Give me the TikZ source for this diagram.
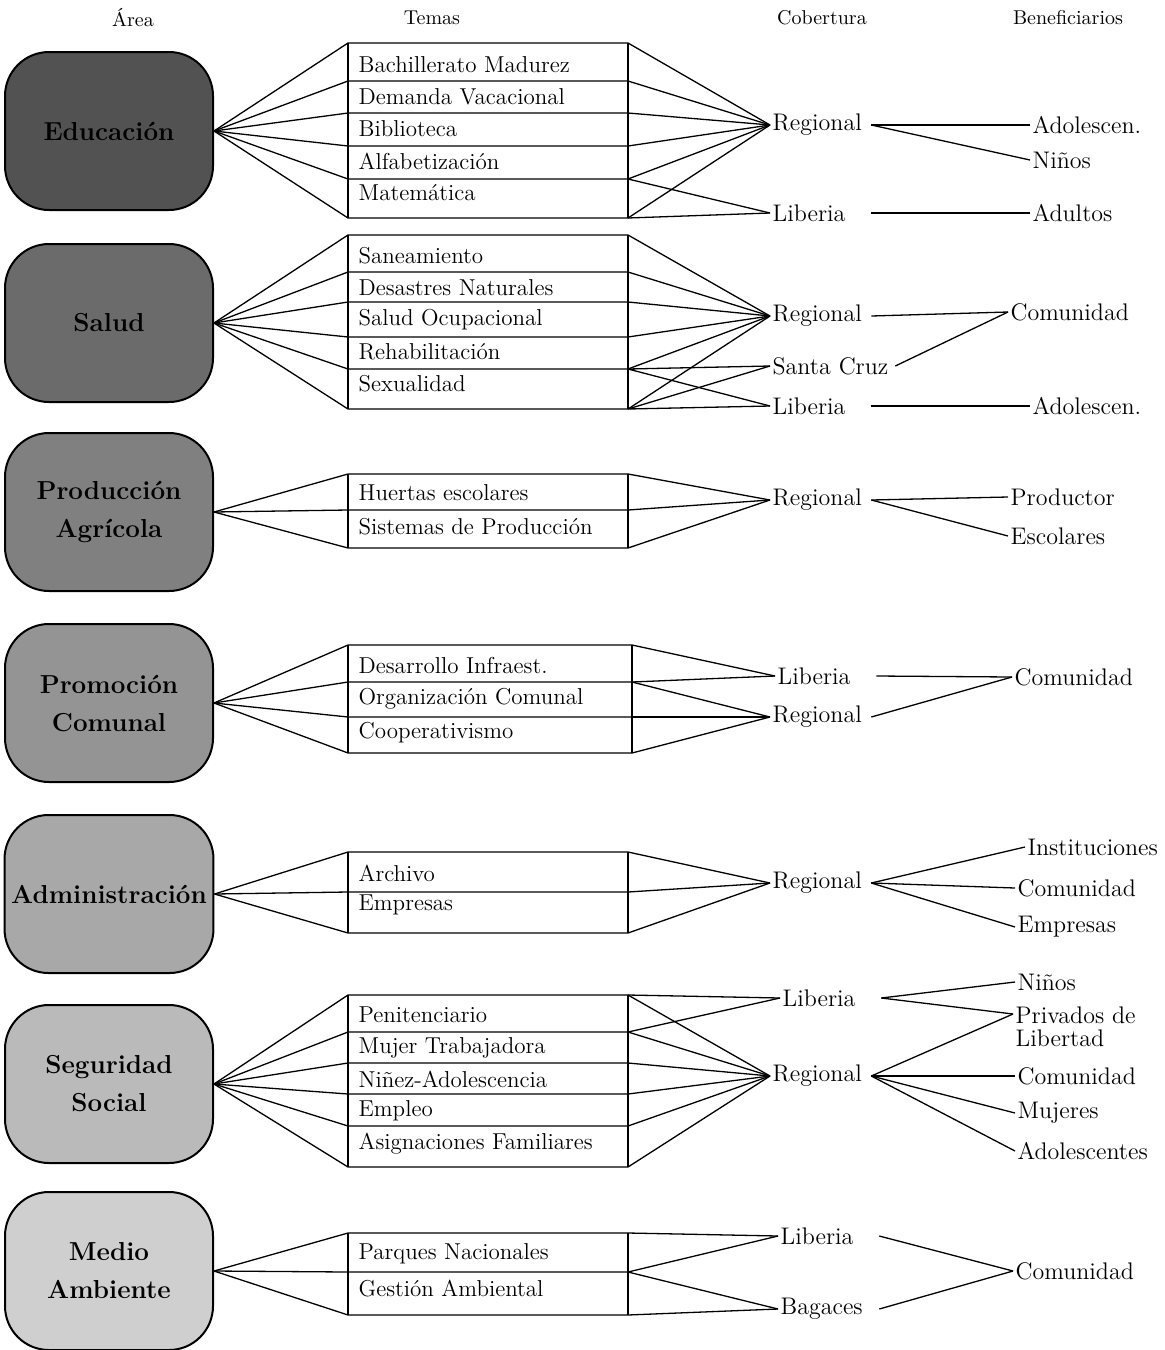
\documentclass[tikz,border=0pt]{standalone}
\usepackage{tikz}

% tonos de las areas
\definecolor{tonoA}{gray}{0.32}
\definecolor{tonoB}{gray}{0.42}
\definecolor{tonoC}{gray}{0.50}
\definecolor{tonoD}{gray}{0.58}
\definecolor{tonoE}{gray}{0.66}
\definecolor{tonoF}{gray}{0.73}
\definecolor{tonoG}{gray}{0.81}

\begin{document}
\begin{tikzpicture}[x=0.5pt, y=-0.5pt, line width=0.65pt,
  area/.style={draw, line width=1pt, rounded corners=22pt, minimum width=104pt,
    minimum height=79pt, align=center, font=\fontsize{13}{19}\selectfont\bfseries},
  tema/.style={anchor=west, inner sep=1pt, font=\fontsize{11.5}{14}\selectfont},
  cob/.style={anchor=west, inner sep=1pt, text width=48pt, font=\fontsize{12}{14}\selectfont},
  benef/.style={anchor=west, inner sep=1pt, align=left, font=\fontsize{12}{11.5}\selectfont},
  head/.style={font=\fontsize{10}{12}\selectfont}]

\useasboundingbox (0,0) rectangle (1165,1350);

% Encabezados
\node[head] (hArea) at (133,18) {Área};
\node[head] (hTemas) at (432,18) {Temas};
\node[head] (hCob) at (822,18) {Cobertura};
\node[head] (hBen) at (1068,18) {Beneficiarios};

% Educacion
\node[area, fill=tonoA] (edu) at (109,131) {Educación};
\foreach \y [count=\i] in {43,81,113,146,179,218}
  \draw (edu.east) -- (348,\y) coordinate (eduL\i) -- (628,\y) coordinate (eduR\i);
\draw (eduL1) -- (eduL6) (eduR1) -- (eduR6);
\foreach \t/\y [count=\i] in {Bachillerato Madurez/65, Demanda Vacacional/97,
    Biblioteca/129, Alfabetización/161, Matemática/193}
  \node[tema] (eduT\i) at (356,\y) {\t};
\node[cob] (eduReg) at (770,125) {Regional};
\node[cob] (eduLib) at (770,213) {Liberia};
\foreach \i in {1,...,6} \draw (eduR\i) -- (eduReg.west);
\foreach \i in {5,6} \draw (eduR\i) -- (eduLib.west);
\node[benef] (eduB1) at (1030,125) {Adolescen.};
\node[benef] (eduB2) at (1030,160) {Niños};
\node[benef] (eduB3) at (1030,213) {Adultos};
\draw (eduReg.east) -- (eduB1.west);
\draw (eduReg.east) -- (eduB2.west);
\draw (eduLib.east) -- (eduB3.west);

% Salud
\node[area, fill=tonoB] (sal) at (109,323) {Salud};
\foreach \y [count=\i] in {235,272,302,337,369,409}
  \draw (sal.east) -- (348,\y) coordinate (salL\i) -- (628,\y) coordinate (salR\i);
\draw (salL1) -- (salL6) (salR1) -- (salR6);
\foreach \t/\y [count=\i] in {Saneamiento/256, Desastres Naturales/288,
    Salud Ocupacional/320, Rehabilitación/352, Sexualidad/384}
  \node[tema] (salT\i) at (356,\y) {\t};
\node[cob] (salReg) at (770,316) {Regional};
\node[cob, text width=60pt] (salSC) at (770,366) {Santa Cruz};
\node[cob] (salLib) at (770,406) {Liberia};
\foreach \i in {1,...,6} \draw (salR\i) -- (salReg.west);
\foreach \i in {5,6} \draw (salR\i) -- (salSC.west) (salR\i) -- (salLib.west);
\node[benef] (salB1) at (1008,312) {Comunidad};
\node[benef] (salB2) at (1030,406) {Adolescen.};
\draw (salReg.east) -- (salB1.west);
\draw (salSC.east) -- (salB1.west);
\draw (salLib.east) -- (salB2.west);

% Produccion Agricola
\node[area, fill=tonoC] (pro) at (109,512) {Producción\\Agrícola};
\foreach \y [count=\i] in {474,510,548}
  \draw (pro.east) -- (348,\y) coordinate (proL\i) -- (628,\y) coordinate (proR\i);
\draw (proL1) -- (proL3) (proR1) -- (proR3);
\node[tema] (proT1) at (356,493) {Huertas escolares};
\node[tema] (proT2) at (356,527) {Sistemas de Producción};
\node[cob] (proReg) at (770,500) {Regional};
\foreach \i in {1,2,3} \draw (proR\i) -- (proReg.west);
\node[benef] (proB1) at (1008,497) {Productor};
\node[benef] (proB2) at (1008,536) {Escolares};
\draw (proReg.east) -- (proB1.west);
\draw (proReg.east) -- (proB2.west);

% Promocion Comunal
\node[area, fill=tonoD] (com) at (109,703) {Promoción\\Comunal};
\foreach \y [count=\i] in {645,682,717,753}
  \draw (com.east) -- (348,\y) coordinate (comL\i) -- (632,\y) coordinate (comR\i);
\draw (comL1) -- (comL4) (comR1) -- (comR4);
\foreach \t/\y [count=\i] in {Desarrollo Infraest./666, Organización Comunal/699,
    Cooperativismo/733}
  \node[tema] (comT\i) at (356,\y) {\t};
\node[cob] (comLib) at (775,676) {Liberia};
\node[cob] (comReg) at (770,717) {Regional};
\foreach \i in {1,2} \draw (comR\i) -- (comLib.west);
\foreach \i in {2,3,4} \draw (comR\i) -- (comReg.west);
\node[benef] (comB1) at (1012,677) {Comunidad};
\draw (comLib.east) -- (comB1.west);
\draw (comReg.east) -- (comB1.west);

% Administracion
\node[area, fill=tonoE] (adm) at (109,894) {Administración};
\foreach \y [count=\i] in {852,892,933}
  \draw (adm.east) -- (348,\y) coordinate (admL\i) -- (628,\y) coordinate (admR\i);
\draw (admL1) -- (admL3) (admR1) -- (admR3);
\node[tema] (admT1) at (356,873) {Archivo};
\node[tema] (admT2) at (356,905) {Empresas};
\node[cob] (admReg) at (770,883) {Regional};
\foreach \i in {1,2,3} \draw (admR\i) -- (admReg.west);
\node[benef] (admB1) at (1025,847) {Instituciones};
\node[benef] (admB2) at (1015,888) {Comunidad};
\node[benef] (admB3) at (1015,927) {Empresas};
\foreach \i in {1,2,3} \draw (admReg.east) -- (admB\i.west);

% Seguridad Social
\node[area, fill=tonoF] (seg) at (109,1084) {Seguridad\\Social};
\foreach \y [count=\i] in {995,1032,1063,1094,1126,1167}
  \draw (seg.east) -- (348,\y) coordinate (segL\i) -- (628,\y) coordinate (segR\i);
\draw (segL1) -- (segL6) (segR1) -- (segR6);
\foreach \t/\y [count=\i] in {Penitenciario/1015, Mujer Trabajadora/1048,
    Niñez-Adolescencia/1079, Empleo/1111, Asignaciones Familiares/1144}
  \node[tema] (segT\i) at (356,\y) {\t};
\node[cob] (segLib) at (780,998) {Liberia};
\node[cob] (segReg) at (770,1076) {Regional};
\foreach \i in {1,2} \draw (segR\i) -- (segLib.west);
\foreach \i in {1,...,6} \draw (segR\i) -- (segReg.west);
\node[benef] (segB1) at (1015,982) {Niños};
\node[benef, anchor=north west] (segB2) at (1013,1004) {Privados de\\Libertad};
\node[benef] (segB3) at (1015,1076) {Comunidad};
\node[benef] (segB4) at (1015,1113) {Mujeres};
\node[benef] (segB5) at (1015,1151) {Adolescentes};
\draw (segLib.east) -- (segB1.west);
\draw (segLib.east) -- ([yshift=-5pt]segB2.north west);
\draw (segReg.east) -- ([yshift=-5pt]segB2.north west);
\foreach \i in {3,4,5} \draw (segReg.east) -- (segB\i.west);

% Medio Ambiente
\node[area, fill=tonoG] (med) at (109,1271) {Medio\\Ambiente};
\foreach \y [count=\i] in {1233,1272,1315}
  \draw (med.east) -- (348,\y) coordinate (medL\i) -- (628,\y) coordinate (medR\i);
\draw (medL1) -- (medL3) (medR1) -- (medR3);
\node[tema] (medT1) at (356,1254) {Parques Nacionales};
\node[tema] (medT2) at (356,1289) {Gestión Ambiental};
\node[cob] (medLib) at (778,1236) {Liberia};
\node[cob] (medBag) at (778,1309) {Bagaces};
\foreach \i in {1,2} \draw (medR\i) -- (medLib.west);
\foreach \i in {2,3} \draw (medR\i) -- (medBag.west);
\node[benef] (medB1) at (1013,1271) {Comunidad};
\draw (medLib.east) -- (medB1.west);
\draw (medBag.east) -- (medB1.west);

\end{tikzpicture}
\end{document}
